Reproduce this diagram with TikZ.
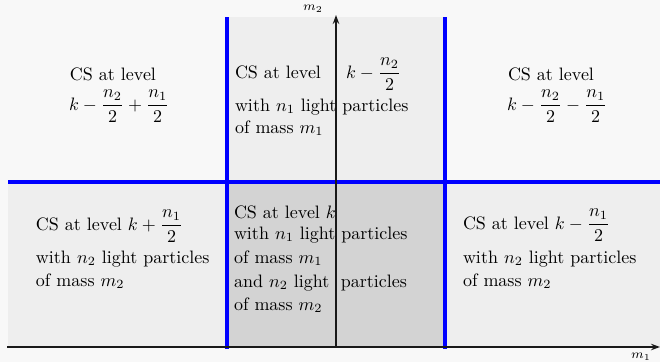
\documentclass[tikz,border=0pt]{standalone}
\usetikzlibrary{arrows.meta}
\definecolor{bgc}{RGB}{248,248,248}
\definecolor{lightc}{RGB}{238,238,238}
\definecolor{darkc}{RGB}{211,211,211}
\definecolor{bluec}{RGB}{0,0,255}
\newcommand{\myfr}[2]{{\displaystyle\frac{#1}{#2}}}
\tikzset{
  txt/.style={anchor=base west, inner sep=0pt, outer sep=0pt},
  bline/.style={draw=bluec, line width=1.7pt},
  axis/.style={draw=black!90, line width=1.05pt, -{Stealth[length=5pt,width=3.6pt]}},
  axlabel/.style={inner sep=0pt, font=\scriptsize}
}
\begin{document}
\begin{tikzpicture}[x=0.5556pt, y=-0.5556pt]
\useasboundingbox (0,0) rectangle (660,362);
\fill[bgc] (0,0) rectangle (660,362);
% shaded regions
\fill[lightc] (227,17) rectangle (445,182);
\fill[lightc] (8,182) rectangle (227,347);
\fill[lightc] (445,182) rectangle (660,347);
\fill[darkc] (227,182) rectangle (445,347);
% blue boundaries
\coordinate (v1t) at (227,17); \coordinate (v1b) at (227,349);
\coordinate (v2t) at (445,17); \coordinate (v2b) at (445,349);
\coordinate (hl) at (8,182);   \coordinate (hr) at (660,182);
\draw[bline] (v1t) -- (v1b);
\draw[bline] (v2t) -- (v2b);
\draw[bline] (hl) -- (hr);
% axes
\coordinate (xs) at (7,347); \coordinate (xe) at (660,347);
\coordinate (ys) at (336,347); \coordinate (ye) at (336,15);
\draw[axis] (xs) -- (xe);
\draw[axis] (ys) -- (ye);
\node[axlabel] (m1) at (641,357) {$m_1$};
\node[axlabel] (m2) at (313,9) {$m_2$};
% top-left
\node[txt] (tl1) at (70,80) {CS at level};
\node[txt] (tl2) at (69,110) {$k-\myfr{n_2}{2}+\myfr{n_1}{2}$};
% top-right
\node[txt] (tr1) at (508,80) {CS at level};
\node[txt] (tr2) at (507,110) {$k-\myfr{n_2}{2}-\myfr{n_1}{2}$};
% top-middle
\node[txt] (tm1) at (235,78) {\makebox[61.7pt][l]{CS at level}$k-\myfr{n_2}{2}$};
\node[txt] (tm2) at (235,111) {with $n_1$ light particles};
\node[txt] (tm3) at (235,133) {of mass $m_1$};
% bottom-left
\node[txt] (bl1) at (36,230) {CS at level $k+\myfr{n_1}{2}$};
\node[txt] (bl2) at (36,263) {with $n_2$ light particles};
\node[txt] (bl3) at (36,286) {of mass $m_2$};
% bottom-right
\node[txt] (br1) at (463,229) {CS at level $k-\myfr{n_1}{2}$};
\node[txt] (br2) at (463,263) {with $n_2$ light particles};
\node[txt] (br3) at (463,286) {of mass $m_2$};
% bottom-middle
\node[txt] (bm1) at (234,218) {CS at level $k$};
\node[txt] (bm2) at (234,239) {with $n_1$ light particles};
\node[txt] (bm3) at (234,263) {of mass $m_1$};
\node[txt] (bm4) at (234,287) {\makebox[59.4pt][l]{and $n_2$ light}particles};
\node[txt] (bm5) at (234,310) {of mass $m_2$};
\end{tikzpicture}
\end{document}
